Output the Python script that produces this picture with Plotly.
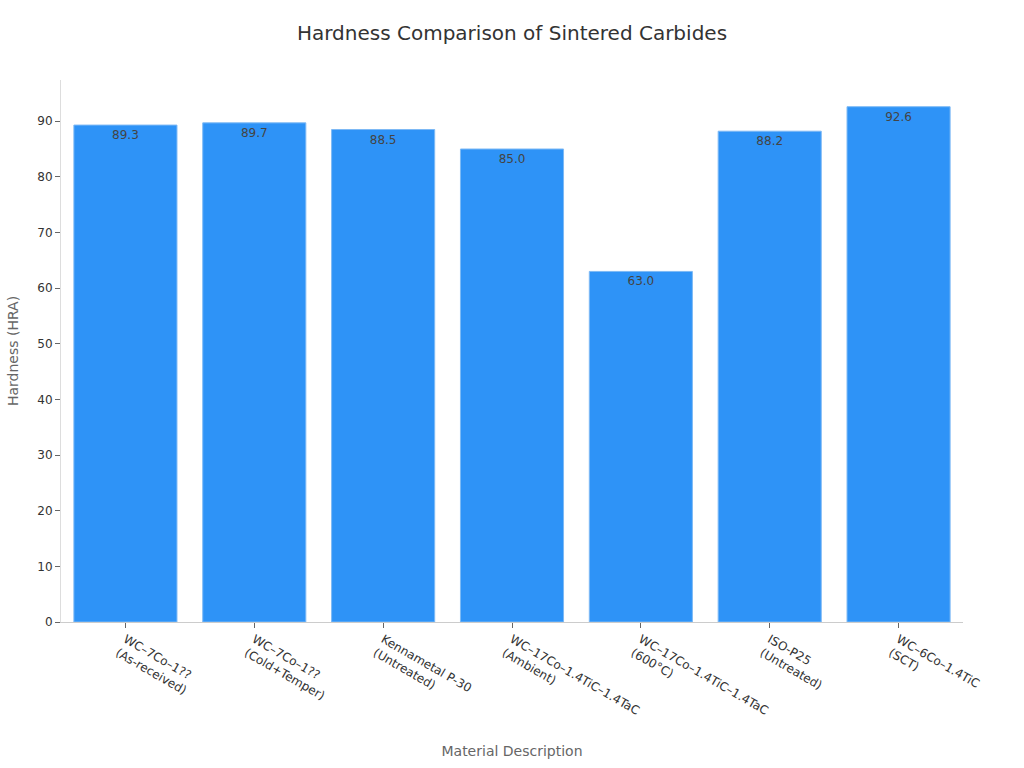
import plotly.graph_objects as go

categories = [
    "WC–7Co–1??<br>(As-received)",
    "WC–7Co–1??<br>(Cold+Temper)",
    "Kennametal P-30<br>(Untreated)",
    "WC–17Co–1.4TiC–1.4TaC<br>(Ambient)",
    "WC–17Co–1.4TiC–1.4TaC<br>(600°C)",
    "ISO-P25<br>(Untreated)",
    "WC–6Co–1.4TiC<br>(SCT)",
]
hardness = [89.3, 89.7, 88.5, 85.0, 63.0, 88.2, 92.6]
y_ticks = [0, 10, 20, 30, 40, 50, 60, 70, 80, 90]

fig = go.Figure(go.Bar(
    x=categories,
    y=hardness,
    text=[f"{v:.1f}" for v in hardness],
    textposition="inside",
    insidetextanchor="end",
    textfont=dict(color="#444444", size=12, family="DejaVu Sans"),
    marker=dict(color="#2E93F7", line=dict(color="#7DB9F5", width=1)),
    width=0.8,
))

fig.update_layout(
    width=1024, height=768,
    margin=dict(l=61, r=61, t=80, b=146),
    paper_bgcolor="white", plot_bgcolor="white",
    font=dict(family="DejaVu Sans", color="#333333", size=12),
    title=dict(text="Hardness Comparison of Sintered Carbides", x=0.5, xanchor="center",
               y=0.957, yanchor="middle", font=dict(size=20, color="#333333")),
    showlegend=False,
    xaxis=dict(
        title=dict(text="Material Description", font=dict(size=14, color="#666666"), standoff=15),
        tickangle=30, ticks="outside", ticklen=5, tickcolor="#666666",
        showline=True, linecolor="#cccccc", showgrid=False, automargin=False,
        tickfont=dict(size=12, color="#333333"),
    ),
    yaxis=dict(
        title=dict(text="Hardness (HRA)", font=dict(size=14, color="#666666")),
        range=[0, 97.4], tickvals=y_ticks, ticks="outside", ticklen=5, tickcolor="#666666",
        showline=True, linecolor="#dddddd", showgrid=False, zeroline=False, automargin=False,
        tickfont=dict(size=12, color="#333333"),
    ),
)

fig.write_html("out.html")
